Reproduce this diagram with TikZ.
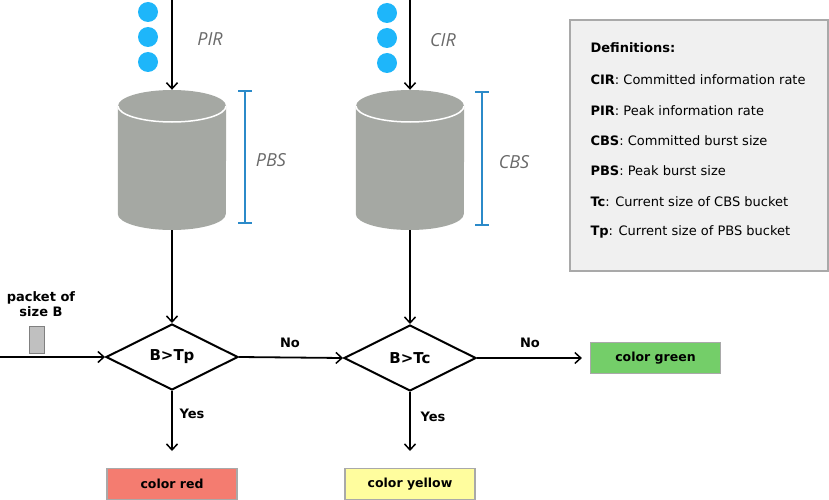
\documentclass[tikz,border=0pt]{standalone}
\usepackage{fontspec}
\setmainfont{DejaVu Sans}
\newfontfamily\itfont{Open Sans}
\usetikzlibrary{shapes.geometric,arrows.meta,calc}
\definecolor{dotblue}{RGB}{30,182,250}
\definecolor{cylgray}{RGB}{165,168,163}
\definecolor{brblue}{RGB}{43,138,201}
\definecolor{lblgray}{RGB}{105,105,105}
\definecolor{boxred}{RGB}{244,124,112}
\definecolor{boxyellow}{RGB}{255,253,158}
\definecolor{boxgreen}{RGB}{116,206,105}
\definecolor{defbg}{RGB}{240,240,240}
\definecolor{defborder}{RGB}{169,169,169}
\definecolor{pktgray}{RGB}{192,192,192}
\tikzset{
  flow/.style={line width=1.8pt,-{Straight Barb[length=6pt,width=11pt,line width=1.5pt]}},
  decision/.style={diamond,draw,line width=2pt,minimum width=132pt,minimum height=66pt,inner sep=0pt,aspect=2,font=\bfseries\fontsize{15}{17}\selectfont},
  result/.style={draw=defborder,line width=1.2pt,minimum width=130pt,minimum height=31pt,inner sep=0pt,font=\bfseries\fontsize{12.5}{14}\selectfont},
  glabel/.style={text=lblgray,font=\itfont\itshape\fontsize{18}{20}\selectfont},
  ylabel/.style={font=\bfseries\fontsize{13}{15}\selectfont},
  dot/.style={circle,fill=dotblue,minimum size=20pt,inner sep=0pt},
  cylbox/.style={draw=none,minimum width=108pt,minimum height=140pt,inner sep=0pt},
  bracket/.style={draw=brblue,line width=1.3pt},
  deftext/.style={anchor=west,font=\fontsize{13}{15}\selectfont},
}
\newcommand{\drawcyl}[1]{%
  \fill[cylgray] (#1.west |- 0,106) -- (#1.south west |- 0,214)
    arc[start angle=180,end angle=360,x radius=54pt,y radius=16pt]
    -- (#1.east |- 0,106) -- cycle;
  \fill[cylgray] (#1.center |- 0,106) ellipse[x radius=54pt,y radius=16pt];
  \draw[white,line width=1.5pt] ($(#1.center |- 0,106)+(-54pt,0)$)
    arc[start angle=180,end angle=360,x radius=54pt,y radius=16pt];
}
\begin{document}
\begin{tikzpicture}[x=1pt,y=-1pt]
\useasboundingbox (0,0) rectangle (829,500);
% column 1
\node[dot] (p1) at (148,12) {};
\node[dot] (p2) at (148,37) {};
\node[dot] (p3) at (148,62) {};
\coordinate (in1) at (172,0);
\node[cylbox] (c1) at (172,160) {};
\drawcyl{c1}
\draw[flow] (in1) -- (c1.north);
\node[glabel] (pir) at (210,39) {PIR};
\coordinate (b1t) at (245,91);
\coordinate (b1b) at (245,223);
\draw[bracket] (b1t) -- (b1b);
\draw[bracket] ($(b1t)+(-7,0)$) -- ($(b1t)+(7,0)$);
\draw[bracket] ($(b1b)+(-7,0)$) -- ($(b1b)+(7,0)$);
\node[glabel] (pbs) at (271,160) {PBS};
\node[decision] (d1) at (172,357) {B>Tp};
\draw[flow] (c1.south) -- (d1.north);
\coordinate (src) at (0,357);
\draw[flow] (src) -- (d1.west);
\node[draw=gray,fill=pktgray,line width=0.8pt,minimum width=15pt,minimum height=27pt,inner sep=0pt] (pkt) at (37,340) {};
\node[ylabel,align=center,inner sep=0pt] (pktl) at (41,304) {packet of\\size B};
\node[result,fill=boxred] (red) at (172,484) {color red};
\coordinate (a1) at (172,451);
\draw[flow] (d1.south) -- (a1);
\node[ylabel] (yes1) at (192,414) {Yes};
% column 2
\node[dot] (q1) at (387,13) {};
\node[dot] (q2) at (387,38) {};
\node[dot] (q3) at (387,63) {};
\coordinate (in2) at (410,0);
\node[cylbox] (c2) at (410,160) {};
\drawcyl{c2}
\draw[flow] (in2) -- (c2.north);
\node[glabel] (cir) at (443,40) {CIR};
\coordinate (b2t) at (482,92);
\coordinate (b2b) at (482,225);
\draw[bracket] (b2t) -- (b2b);
\draw[bracket] ($(b2t)+(-7,0)$) -- ($(b2t)+(7,0)$);
\draw[bracket] ($(b2b)+(-7,0)$) -- ($(b2b)+(7,0)$);
\node[glabel] (cbs) at (514,162) {CBS};
\node[decision] (d2) at (410,358) {B>Tc};
\draw[flow] (c2.south) -- (d2.north);
\draw[flow] (d1.east) -- (d2.west);
\node[ylabel] (no1) at (290,343) {No};
\node[result,fill=boxyellow] (yel) at (410,484) {color yellow};
\coordinate (a2) at (410,451);
\draw[flow] (d2.south) -- (a2);
\node[ylabel] (yes2) at (433,417) {Yes};
\node[result,fill=boxgreen] (grn) at (655.5,358) {color green};
\draw[flow] (d2.east) -- ($(grn.west)+(-8,0)$);
\node[ylabel] (no2) at (530,343) {No};
% definitions
\node[draw=defborder,fill=defbg,line width=1.2pt,minimum width=258pt,minimum height=251pt,inner sep=0pt] (defs) at (699,145.5) {};
\node[deftext] (dh) at (587,48) {\bfseries Definitions:};
\node[deftext] (d1t) at (587,80) {\textbf{CIR}: Committed information rate};
\node[deftext] (d2t) at (587,111) {\textbf{PIR}: Peak information rate};
\node[deftext] (d3t) at (587,141) {\textbf{CBS}: Committed burst size};
\node[deftext] (d4t) at (587,171) {\textbf{PBS}: Peak burst size};
\node[deftext] (d5t) at (587,202) {\textbf{Tc}: Current size of CBS bucket};
\node[deftext] (d6t) at (587,232) {\textbf{Tp}: Current size of PBS bucket};
\end{tikzpicture}
\end{document}
